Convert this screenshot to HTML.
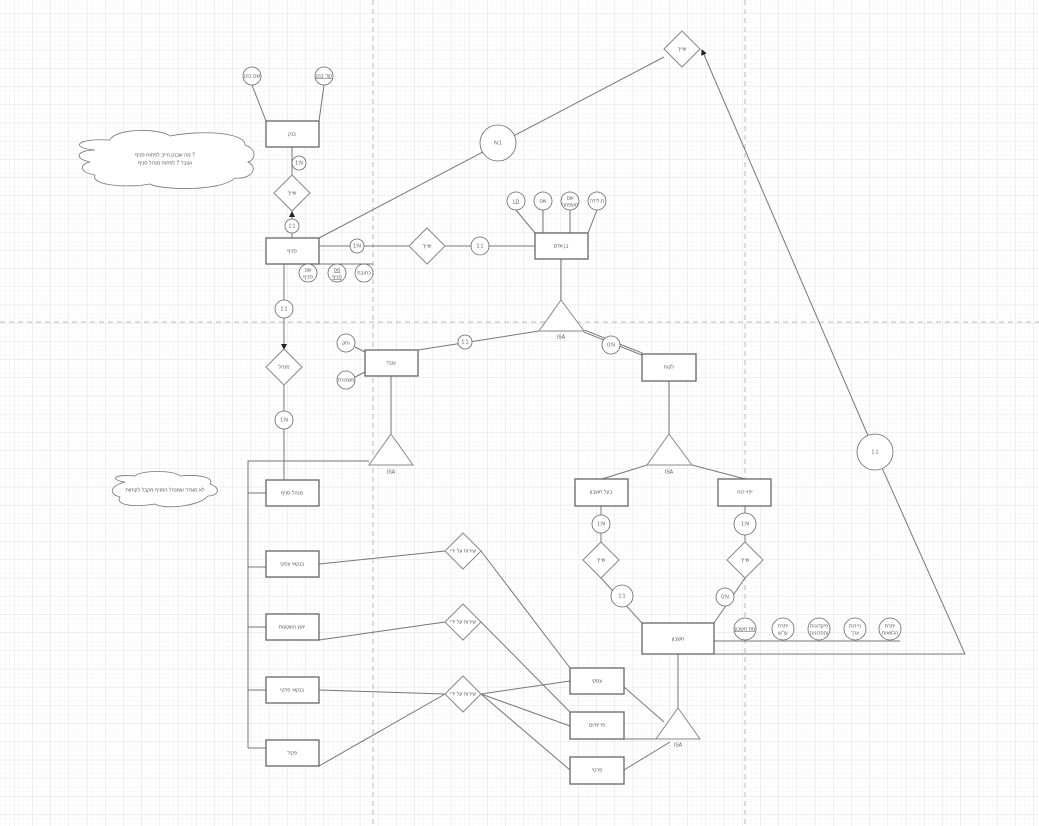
<!DOCTYPE html>
<html><head><meta charset="utf-8"><style>
html,body{margin:0;padding:0;background:#fff}
svg{display:block}
text{font-family:"Liberation Sans","Noto Sans CJK JP",sans-serif;font-size:5px;fill:#555;text-anchor:middle;dominant-baseline:middle}
.s{stroke:#777;stroke-width:1;fill:none}
.e{stroke:#666;stroke-width:1.3;fill:#fff}
.d{stroke:#888;stroke-width:1;fill:#fff}
.c{stroke:#666;stroke-width:0.8;fill:#fff}
</style></head><body>
<svg width="1039" height="826" viewBox="0 0 1039 826" xmlns="http://www.w3.org/2000/svg">
<defs>
<pattern id="mi" x="14" y="13.5" width="4.55" height="4.55" patternUnits="userSpaceOnUse"><path d="M0 0H4.55M0 0V4.55" stroke="#f2f2f2" stroke-width="0.6" fill="none"/></pattern>
<pattern id="ma" x="14" y="13.5" width="18.2" height="18.2" patternUnits="userSpaceOnUse"><path d="M0 0H18.2M0 0V18.2" stroke="#dadada" stroke-width="0.8" fill="none"/></pattern>
<marker id="ar" markerWidth="6" markerHeight="6" refX="5" refY="3" orient="auto"><path d="M0 0L6 3L0 6z" fill="#222"/></marker>
</defs>
<rect width="1039" height="826" fill="url(#mi)"/>
<rect width="1039" height="826" fill="url(#ma)"/>
<line x1="373" y1="0" x2="373" y2="826" stroke="#bbb" stroke-dasharray="5,4"/>
<line x1="745" y1="0" x2="745" y2="826" stroke="#bbb" stroke-dasharray="5,4"/>
<line x1="0" y1="322" x2="1039" y2="322" stroke="#bbb" stroke-dasharray="5,4"/>

<!-- lines -->
<g class="s">
<path d="M252 85L266 121M324 85L319 121"/>
<path d="M292 147V175M292 238V211"/>
<path d="M319 238L664 57"/>
<path d="M875 452L965 654H714"/>
<path d="M319 246H409M445 246H535"/>
<path d="M300 264H373"/>
<path d="M284 264V348M284 385V480"/>
<path d="M516 210L535 233M543 210V233M570 210V233M597 210L588 233"/>
<path d="M561 259V300"/>
<path d="M539 331L418 350"/>
<path d="M391 376V434M355 347L365 352M355 377L365 372"/>
<path d="M369 461H248V748M248 493H266M248 567H266M248 627H266M248 690H266M248 748H266"/>
<path d="M669 381V434M647 465L602 479M692 465L745 479"/>
<path d="M601 506V542M601 578L642 623M745 506V542M745 578L714 623"/>
<path d="M714 641H900"/>
<path d="M678 654V708"/>
<path d="M624 687L664 722M624 739H700M624 770L670 742"/>
<path d="M319 564L445 551M481 551L570 668M319 640L445 622M481 622L570 712M319 690L445 694M319 766L445 694M481 694L570 681M481 694L570 726M481 694L570 770"/>
</g>
<path d="M584 331L642 354" stroke="#777" stroke-width="3" fill="none"/>
<path d="M584 331L642 354" stroke="#fff" stroke-width="1" fill="none"/>
<line x1="875" y1="452" x2="702" y2="50" stroke="#777" marker-end="url(#ar)"/>
<line x1="292" y1="220" x2="292" y2="212" stroke="#777" marker-end="url(#ar)"/>
<line x1="284" y1="340" x2="284" y2="349" stroke="#777" marker-end="url(#ar)"/>

<!-- clouds -->
<g fill="#fff" stroke="#777" stroke-width="0.8">
<path d="M95 150C70 148 75 138 110 140C115 128 160 128 170 136C200 130 245 132 245 145C258 150 255 160 248 162C260 168 250 180 235 178C220 192 160 190 150 184C130 188 90 186 95 175C78 172 80 164 90 162C72 158 78 150 95 150Z"/>
<path d="M125 482C110 480 112 474 135 476C140 470 175 470 180 476C200 474 215 478 210 484C222 488 218 496 208 496C200 506 165 510 155 504C130 508 115 504 120 497C108 494 110 486 125 482Z"/>
</g>
<text x="165" y="155">מה שבנק חייב לפתוח סניף ?</text>
<text x="165" y="163">ועובד ? לפתוח מנהל סניף</text>
<text x="165" y="490">לא מוגדר שמנהל הסניף מקבל לקוחות</text>

<!-- entities -->
<g class="e">
<rect x="266" y="121" width="53" height="26"/>
<rect x="266" y="238" width="53" height="26"/>
<rect x="535" y="233" width="53" height="26"/>
<rect x="365" y="350" width="53" height="26"/>
<rect x="642" y="354" width="54" height="27"/>
<rect x="266" y="480" width="53" height="26"/>
<rect x="266" y="551" width="53" height="26"/>
<rect x="266" y="614" width="53" height="26"/>
<rect x="266" y="677" width="53" height="26"/>
<rect x="266" y="740" width="53" height="26"/>
<rect x="575" y="479" width="53" height="27"/>
<rect x="718" y="479" width="53" height="27"/>
<rect x="642" y="623" width="72" height="31"/>
<rect x="570" y="668" width="54" height="26"/>
<rect x="570" y="712" width="54" height="27"/>
<rect x="570" y="757" width="54" height="27"/>
</g>
<text x="292" y="134">בנק</text><text x="292" y="251">סניף</text><text x="561" y="246">בן אדם</text>
<text x="391" y="363">עובד</text><text x="669" y="367">לקוח</text><text x="292" y="493">מנהל סניף</text>
<text x="292" y="564">בנקאי עסקי</text><text x="292" y="627">יועץ השקעות</text><text x="292" y="690">בנקאי פרטי</text>
<text x="292" y="753">פקיד</text><text x="601" y="492">בעל חשבון</text><text x="745" y="492">יפוי כוח</text>
<text x="678" y="639">חשבון</text><text x="597" y="681">עסקי</text><text x="597" y="725">פרימיום</text><text x="597" y="770">פרטי</text>

<!-- diamonds -->
<g class="d">
<path d="M682 31L700 49L682 67L664 49Z"/>
<path d="M292 175L310 193L292 211L274 193Z"/>
<path d="M427 228L445 246L427 264L409 246Z"/>
<path d="M284 349L302 367L284 385L266 367Z"/>
<path d="M601 542L619 560L601 578L583 560Z"/>
<path d="M745 542L763 560L745 578L727 560Z"/>
<path d="M463 533L481 551L463 569L445 551Z"/>
<path d="M463 604L481 622L463 640L445 622Z"/>
<path d="M463 676L481 694L463 712L445 694Z"/>
</g>
<text x="682" y="49">שייך</text><text x="292" y="193">שייך</text><text x="427" y="246">שייך</text>
<text x="284" y="367">מנהל</text><text x="601" y="560">שייך</text><text x="745" y="560">שייך</text>
<text x="463" y="551">שירות על ידי</text><text x="463" y="622">שירות על ידי</text><text x="463" y="694">שירות על ידי</text>

<!-- triangles -->
<g class="d">
<path d="M561 300L584 331H539Z"/>
<path d="M391 434L413 465H369Z"/>
<path d="M669 434L692 465H647Z"/>
<path d="M678 708L700 739H656Z"/>
</g>
<text x="561" y="337">ISA</text><text x="391" y="472">ISA</text><text x="669" y="472">ISA</text><text x="678" y="745">ISA</text>

<!-- circles -->
<g class="c">
<circle cx="252" cy="76" r="9"/><circle cx="324" cy="76" r="9"/>
<circle cx="299" cy="163" r="7"/><circle cx="292" cy="226" r="7"/>
<circle cx="357" cy="246" r="7"/><circle cx="480" cy="246" r="9"/>
<circle cx="498" cy="143" r="18"/><circle cx="875" cy="452" r="18"/>
<circle cx="284" cy="309" r="9"/><circle cx="284" cy="420" r="9"/>
<circle cx="465" cy="342" r="7"/><circle cx="611" cy="345" r="9"/>
<circle cx="601" cy="524" r="9"/><circle cx="745" cy="524" r="11"/>
<circle cx="622" cy="596" r="11"/><circle cx="725" cy="597" r="9"/>
<circle cx="308" cy="273" r="9"/><circle cx="337" cy="273" r="9"/><circle cx="364" cy="273" r="9"/>
<circle cx="516" cy="201" r="9"/><circle cx="543" cy="201" r="9"/><circle cx="570" cy="201" r="9"/><circle cx="597" cy="201" r="9"/>
<circle cx="346" cy="343" r="9"/><circle cx="346" cy="380" r="9"/>
<circle cx="745" cy="629" r="11"/><circle cx="783" cy="629" r="11"/><circle cx="819" cy="629" r="11"/><circle cx="855" cy="629" r="11"/><circle cx="890" cy="629" r="11"/>
</g>
<text x="252" y="76">שם בנק</text><text x="324" y="76" text-decoration="underline">קוד בנק</text>
<text x="299" y="163">1:N</text><text x="292" y="226">1:1</text><text x="357" y="246">1:N</text><text x="480" y="246">1:1</text>
<text x="498" y="143">N:1</text><text x="875" y="452">1:1</text><text x="284" y="309">1:1</text><text x="284" y="420">1:N</text>
<text x="465" y="342">1:1</text><text x="611" y="345">0:N</text><text x="601" y="524">1:N</text><text x="745" y="524">1:N</text>
<text x="622" y="596">1:1</text><text x="725" y="597">0:N</text>
<text x="308" y="270">שם</text><text x="308" y="277">סניף</text>
<text x="337" y="270" text-decoration="underline">מס</text><text x="337" y="277" text-decoration="underline">סניף</text>
<text x="364" y="273">כתובת</text>
<text x="516" y="201" text-decoration="underline">ת.ז</text><text x="543" y="201">שם</text>
<text x="570" y="198">שם</text><text x="570" y="205">משפחה</text><text x="597" y="201">ת.לידה</text>
<text x="346" y="343">ותק</text><text x="346" y="380">משכורת</text>
<text x="745" y="629" text-decoration="underline">מס חשבון</text>
<text x="783" y="626">יתרת</text><text x="783" y="633">עו"ש</text>
<text x="819" y="626">פיקדונות</text><text x="819" y="633">וחסכונות</text>
<text x="855" y="626">ניירות</text><text x="855" y="633">ערך</text>
<text x="890" y="626">יתרת</text><text x="890" y="633">הלוואות</text>
</svg>
</body></html>
